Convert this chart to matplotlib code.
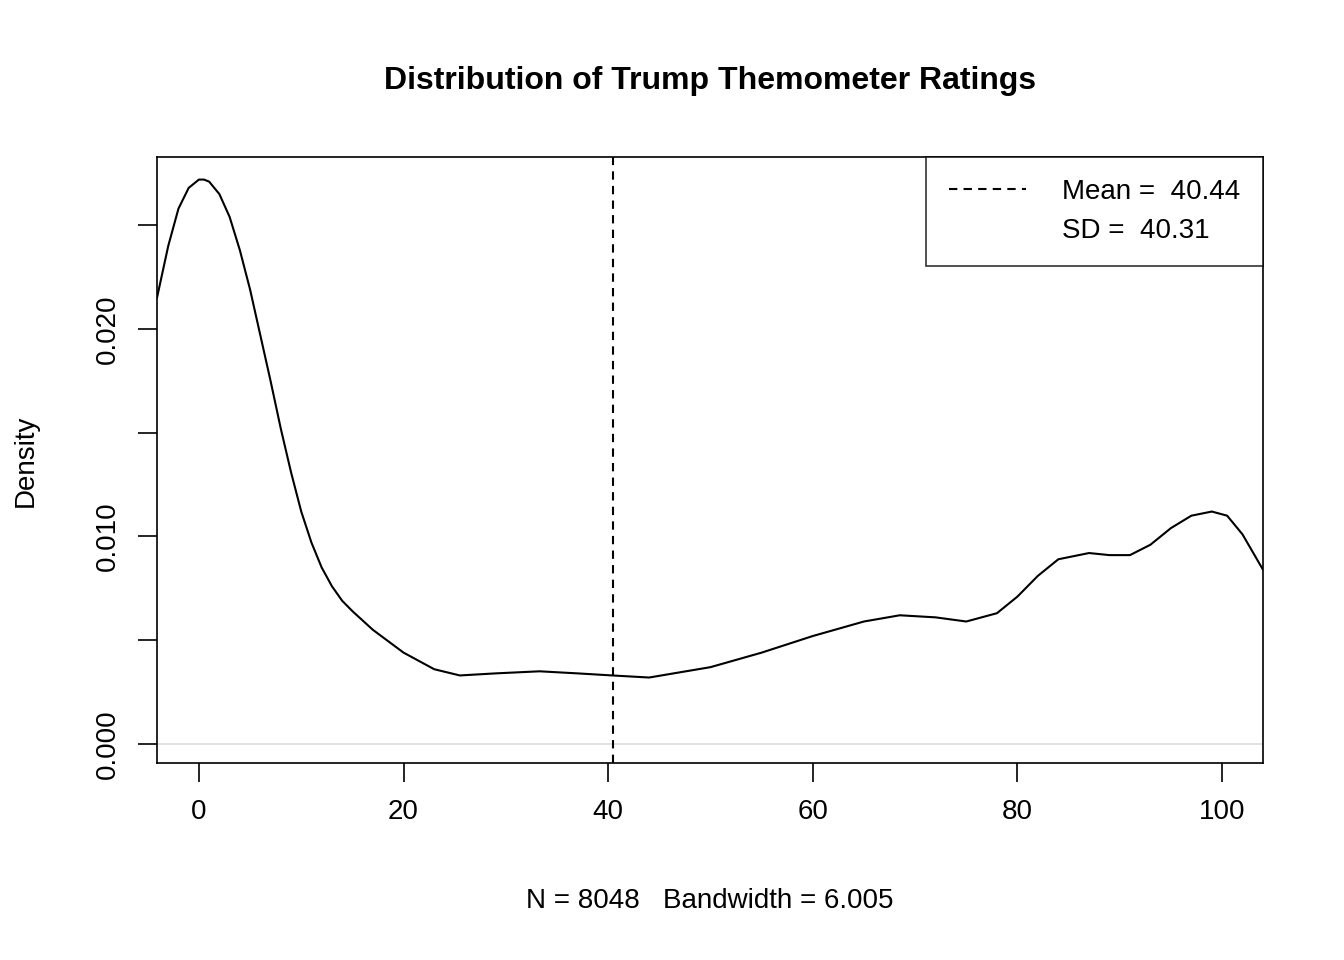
import matplotlib
matplotlib.use("Agg")
import matplotlib.pyplot as plt

plt.rcParams['font.family'] = ['Liberation Sans', 'DejaVu Sans']

# density curve
dens_x = [-4.1, -3.0, -2.0, -1.0, 0.0, 0.5, 1.0, 2.0, 3.0, 4.0, 5.0, 6.0, 7.0, 8.0, 9.0,
          10.0, 11.0, 12.0, 13.0, 14.0, 15.0, 17.0, 20.0, 23.0, 25.5, 29.0, 33.3, 37.0,
          40.4, 44.0, 50.0, 55.0, 60.0, 65.0, 68.5, 72.0, 75.0, 78.0, 80.0, 82.0, 84.0,
          87.0, 89.0, 91.0, 93.0, 95.0, 97.0, 99.0, 100.5, 102.0, 104.0]
dens_y = [0.0215, 0.0240, 0.0258, 0.0268, 0.0272, 0.0272, 0.0271, 0.0265, 0.0254, 0.0238,
          0.0219, 0.0197, 0.0175, 0.0152, 0.0131, 0.0112, 0.0097, 0.0085, 0.0076, 0.0069,
          0.0064, 0.0055, 0.0044, 0.0036, 0.0033, 0.0034, 0.0035, 0.0034, 0.0033, 0.0032,
          0.0037, 0.0044, 0.0052, 0.0059, 0.0062, 0.0061, 0.0059, 0.0063, 0.0071, 0.0081,
          0.0089, 0.0092, 0.0091, 0.0091, 0.0096, 0.0104, 0.0110, 0.0112, 0.0110, 0.0101, 0.0084]
mean_val = 40.44
sd_val = 40.31
n_obs = 8048
bandwidth = 6.005

fig = plt.figure(figsize=(13.44, 9.6), dpi=100)
ax = fig.add_axes([0.1168, 0.2052, 0.8229, 0.6313])

ax.axhline(0, color='#dddddd', lw=1.2, zorder=0)
ax.plot(dens_x, dens_y, color='black', lw=1.5)
ax.axvline(mean_val, color='black', ls=(0, (4, 3)), lw=1.5)

ax.set_xlim(-4.1, 104.0)
ax.set_ylim(-0.00092, 0.02829)
ax.set_xticks([0, 20, 40, 60, 80, 100])
ax.set_yticks([0, 0.005, 0.010, 0.015, 0.020, 0.025])
ax.set_yticklabels(['0.000', '', '0.010', '', '0.020', ''], rotation=90, va='center')
ax.tick_params(direction='out', length=14, width=1.2, labelsize=20, pad=12)
for s in ax.spines.values():
    s.set_linewidth(1.2)

fig.text(0.528, 0.916, 'Distribution of Trump Themometer Ratings', fontsize=23,
         fontweight='bold', ha='center', va='center')
fig.text(0.528, 0.061, f'N = {n_obs}   Bandwidth = {bandwidth}', fontsize=20,
         ha='center', va='center')
fig.text(0.019, 0.52, 'Density', fontsize=20, rotation=90, ha='center', va='center')

leg = ax.legend([plt.Line2D([], [], color='black', ls=(0, (4, 3)), lw=1.5),
                 plt.Line2D([], [], color='none')],
                [f'Mean =  {mean_val}', f'SD =  {sd_val}'],
                loc='upper right', fontsize=20, frameon=True, fancybox=False,
                borderaxespad=0, handlelength=2.8, handletextpad=1.3,
                labelspacing=0.45, borderpad=0.8)
leg.get_frame().set_edgecolor('black')
leg.get_frame().set_linewidth(1.2)

fig.savefig('out.png', dpi=100)
